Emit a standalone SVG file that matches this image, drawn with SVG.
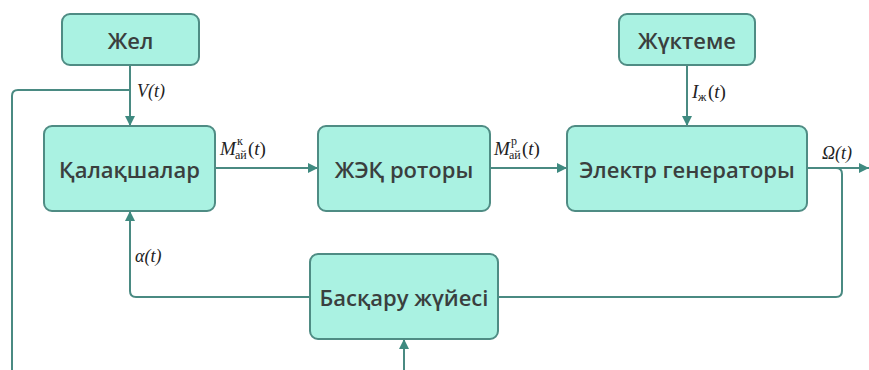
<svg xmlns="http://www.w3.org/2000/svg" width="869" height="370" viewBox="0 0 869 370">
<defs>
<marker id="ah" viewBox="0 0 10 10" refX="10" refY="5" markerWidth="10" markerHeight="10" markerUnits="userSpaceOnUse" orient="auto">
<path d="M0,0 L10,5 L0,10 z" fill="#3f8a80"/>
</marker>
<style>
.box{fill:#aaf2e2;stroke:#4f8c84;stroke-width:2}
.lbl{font-family:"Open Sans","Noto Sans",sans-serif;font-size:22px;font-weight:600;fill:#3a3f3e;text-anchor:middle;dominant-baseline:central}
.ln{fill:none;stroke:#4a8a82;stroke-width:2}
.m{font-family:"Liberation Serif",serif;font-style:italic;font-size:18px;fill:#222}
.r{font-family:"Liberation Serif",serif;font-size:19px;fill:#222}
.s{font-family:"Liberation Serif",serif;font-size:12px;fill:#222}
</style>
</defs>
<rect width="869" height="370" fill="#ffffff"/>
<g id="connectors">
<path class="ln" d="M130,65 V126" marker-end="url(#ah)"/>
<path class="ln" d="M130,90 H18 Q12,90 12,96 V380 H398 Q404,380 404,374 V339" marker-end="url(#ah)"/>
<path class="ln" d="M215,168 H318" marker-end="url(#ah)"/>
<path class="ln" d="M490,168 H567" marker-end="url(#ah)"/>
<path class="ln" d="M687,65 V126" marker-end="url(#ah)"/>
<path class="ln" d="M807,168 H869" marker-end="url(#ah)"/>
<path class="ln" d="M807,168 H836 Q842,168 842,174 V291 Q842,297 836,297 H498"/>
<path class="ln" d="M310,297 H136 Q130,297 130,291 V211" marker-end="url(#ah)"/>
<text class="m" x="137" y="97">V(t)</text>
<text class="m" x="220" y="155" style="font-size:19px">M</text>
<text class="s" x="235" y="159">ай</text>
<text class="s" x="237" y="145">к</text>
<text class="r" x="248" y="155">(<tspan font-style="italic">t</tspan>)</text>
<text class="m" x="494" y="155" style="font-size:19px">M</text>
<text class="s" x="509" y="159">ай</text>
<text class="s" x="511" y="145">р</text>
<text class="r" x="522" y="155">(<tspan font-style="italic">t</tspan>)</text>
<text class="m" x="692" y="98" style="font-size:19px">I</text>
<text class="s" x="698" y="101">ж</text>
<text class="r" x="708" y="98">(<tspan font-style="italic">t</tspan>)</text>
<text class="m" x="822" y="159">Ω(t)</text>
<text class="m" x="135" y="262">α(t)</text>
</g>
<g id="n1"><rect class="box" x="62" y="14" width="137" height="51" rx="8"/><text class="lbl" x="130.5" y="40">Жел</text></g>
<g id="n2"><rect class="box" x="619" y="14" width="136" height="51" rx="8"/><text class="lbl" x="687" y="40">Жүктеме</text></g>
<g id="n3"><rect class="box" x="44" y="126" width="171" height="85" rx="8"/><text class="lbl" x="129.5" y="169">Қалақшалар</text></g>
<g id="n4"><rect class="box" x="318" y="126" width="172" height="85" rx="8"/><text class="lbl" x="404" y="169">ЖЭҚ роторы</text></g>
<g id="n5"><rect class="box" x="567" y="126" width="240" height="85" rx="8"/><text class="lbl" x="687" y="169">Электр генераторы</text></g>
<g id="n6"><rect class="box" x="310" y="254" width="188" height="85" rx="8"/><text class="lbl" x="404" y="297">Басқару жүйесі</text></g>
</svg>
